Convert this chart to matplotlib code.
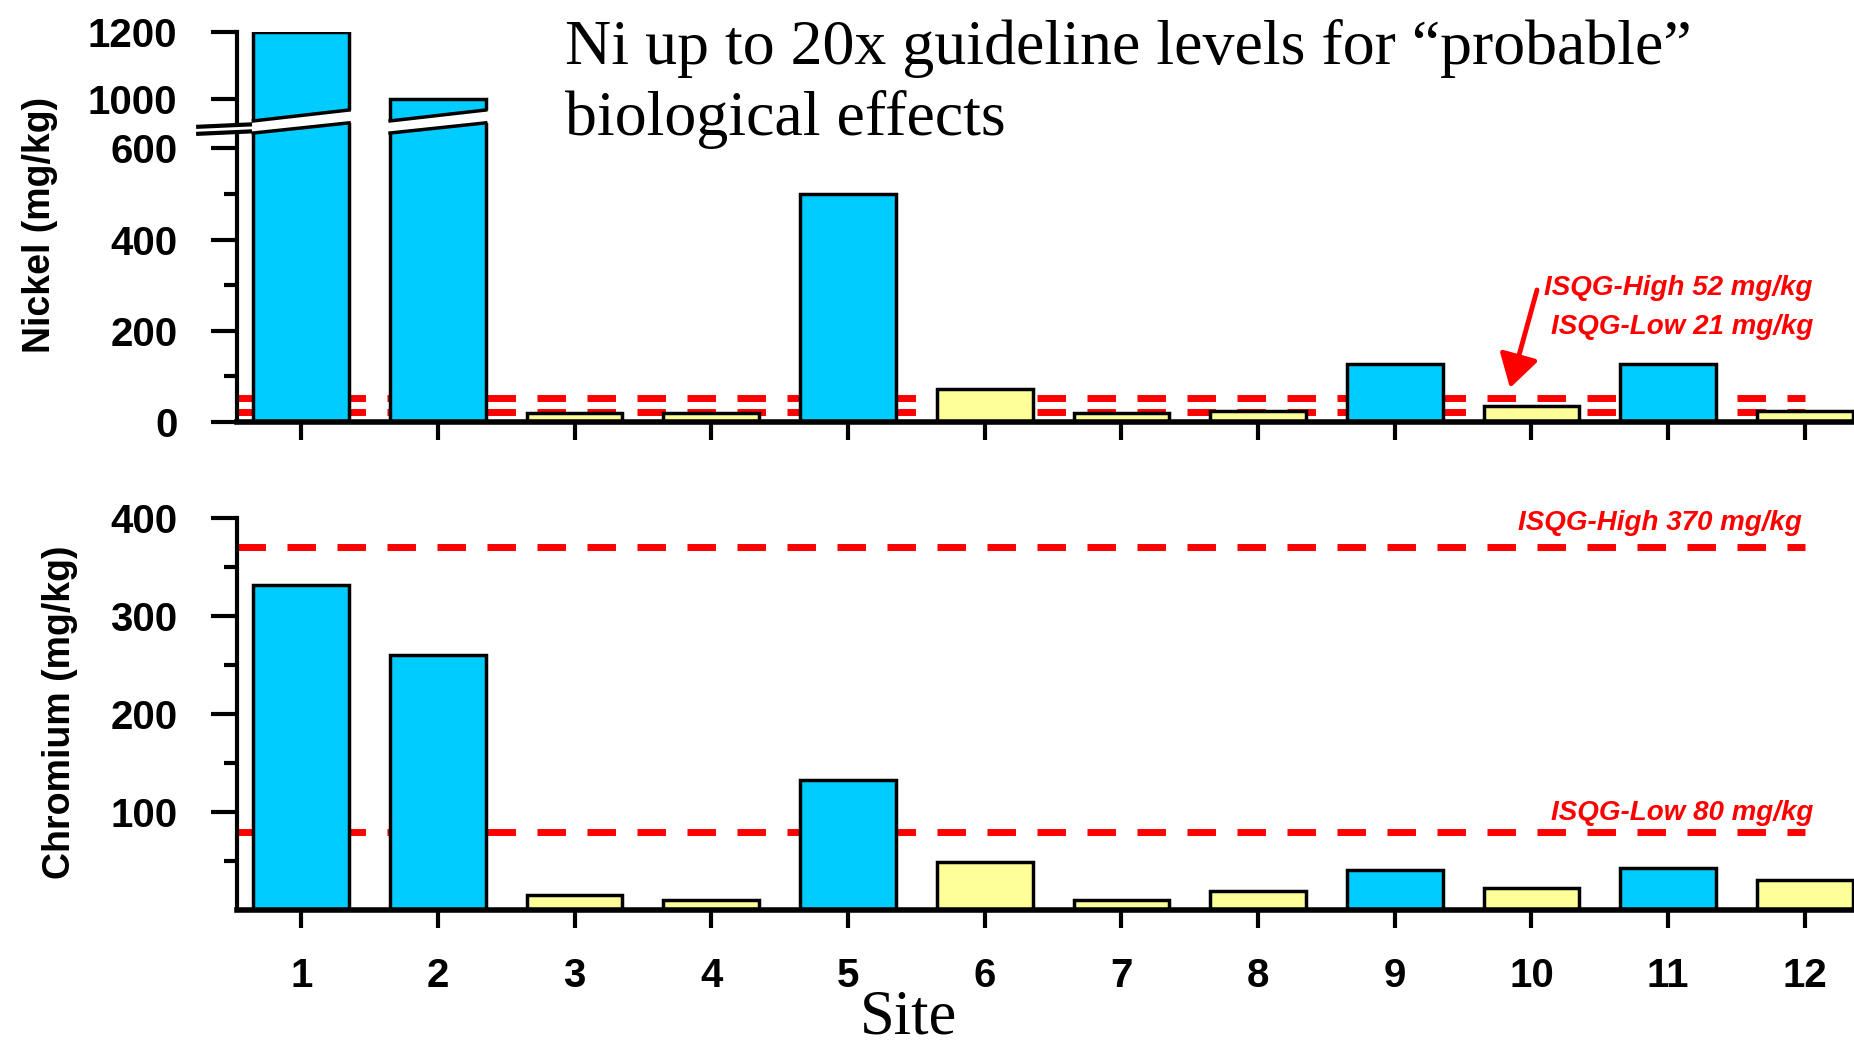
import numpy as np
import matplotlib.pyplot as plt
from matplotlib.patches import Polygon

plt.rcParams['font.family'] = 'Liberation Sans'
plt.rcParams['font.weight'] = 'bold'

sites = np.arange(1, 13)
site_labels = [str(s) for s in sites]
nickel = [1200, 1000, 20, 20, 500, 72, 20, 24, 128, 36, 128, 25]
chromium = [332, 260, 15, 10, 133, 49, 10, 19, 41, 22, 43, 31]
over_guideline = [True, True, False, False, True, False, False, False, True, False, True, False]

ni_high, ni_low = 52, 21
cr_high, cr_low = 370, 80

blue = '#00CCFF'
yellow = '#FFFF99'
red = '#FF0000'
colors = [blue if o else yellow for o in over_guideline]

# nickel axis is broken: linear up to brk_lo, squeezed above brk_hi
brk_lo, brk_hi, squash = 644, 913, 0.7335
xp = [-1e4, brk_lo, brk_hi, 1e4]
fp = [-1e4, brk_lo, brk_lo + 0.5, brk_lo + 0.5 + (1e4 - brk_hi) * squash]


def fwd(y):
    return np.interp(y, xp, fp)


def inv(t):
    return np.interp(t, fp, xp)


W, H = 1854, 1048
fig = plt.figure(figsize=(W / 100, H / 100), dpi=100)
ax1 = fig.add_axes([237 / W, 1 - 422 / H, 1617 / W, 390 / H])
ax2 = fig.add_axes([237 / W, 1 - 910 / H, 1617 / W, 392 / H])

dash = (0, (4.1, 3.1))


def style(ax):
    for s in ['top', 'right']:
        ax.spines[s].set_visible(False)
    ax.spines['left'].set_linewidth(3)
    ax.spines['bottom'].set_linewidth(4)
    ax.tick_params(axis='y', which='major', length=19, width=3, pad=24, labelsize=29)
    ax.tick_params(axis='y', which='minor', length=9.5, width=3)
    ax.tick_params(axis='x', length=13, width=3, pad=21, labelsize=29)
    ax.set_xlim(0.53, 12.36)
    ax.set_xticks(sites)
    ax.set_xticklabels(site_labels)


# --- nickel ---
ax1.set_yscale('function', functions=(fwd, inv))
ax1.bar(sites, nickel, width=0.7, color=colors, edgecolor='black', linewidth=2.5, zorder=2)
ax1.hlines([ni_high, ni_low], 0.53, 12, colors=red, linewidth=5, linestyles=dash, zorder=1.5)
ax1.set_ylim(0, 1200)
ax1.set_yticks([0, 200, 400, 600, 1000, 1200])
ax1.set_yticks([100, 300, 500], minor=True)
style(ax1)
ax1.tick_params(axis='x', labelbottom=False)

# slanted gap through the tall bars
trans = ax1.get_xaxis_transform()
half = 0.35
for x, v in zip(sites, nickel):
    if v > brk_hi:
        xl, xr = x - half, x + half
        top_l, top_r = 0.772, 0.800
        bot_l, bot_r = 0.741, 0.767
        ax1.add_patch(Polygon([(xl - 0.03, bot_l), (xr + 0.03, bot_r), (xr + 0.03, top_r), (xl - 0.03, top_l)],
                              closed=True, transform=trans, facecolor='white', edgecolor='none', zorder=3))
        ax1.plot([xl, xr], [top_l, top_r], transform=trans, color='black', lw=2.5, zorder=4)
        ax1.plot([xl, xr], [bot_l, bot_r], transform=trans, color='black', lw=2.5, zorder=4)

# break mark on the y spine
ax1.add_patch(Polygon([(-0.024, 0.741), (0.008, 0.747), (0.008, 0.761), (-0.024, 0.755)], closed=True,
                      transform=ax1.transAxes, facecolor='white', edgecolor='none', zorder=5, clip_on=False))
ax1.plot([-0.024, 0.008], [0.739, 0.745], transform=ax1.transAxes, color='black', lw=3, zorder=6, clip_on=False)
ax1.plot([-0.024, 0.008], [0.757, 0.763], transform=ax1.transAxes, color='black', lw=3, zorder=6, clip_on=False)

# --- chromium ---
ax2.bar(sites, chromium, width=0.7, color=colors, edgecolor='black', linewidth=2.5, zorder=2)
ax2.hlines([cr_high, cr_low], 0.53, 12, colors=red, linewidth=5, linestyles=dash, zorder=1.5)
ax2.set_ylim(0, 400)
ax2.set_yticks([100, 200, 300, 400])
ax2.set_yticks([50, 150, 250, 350], minor=True)
style(ax2)

# axis titles
fig.text(40 / W, 1 - 225 / H, 'Nickel (mg/kg)', rotation=90, ha='center', va='center', fontsize=27)
fig.text(60 / W, 1 - 712 / H, 'Chromium (mg/kg)', rotation=90, ha='center', va='center', fontsize=27)
fig.text(908 / W, 1 - 1033 / H, 'Site', family='Liberation Serif', weight='normal', fontsize=45,
         ha='center', va='baseline')
fig.text(565 / W, 1 - 19 / H, 'Ni up to 20x guideline levels for \u201cprobable\u201d\nbiological effects',
         family='Liberation Serif', weight='normal', fontsize=46, ha='left', va='top', linespacing=1.26)

# guideline labels
lab = dict(color=red, style='italic', fontsize=20, va='center')
fig.text(1813 / W, 1 - 288 / H, 'ISQG-High 52 mg/kg', ha='right', **lab)
fig.text(1813 / W, 1 - 327 / H, 'ISQG-Low 21 mg/kg', ha='right', **lab)
fig.text(1802 / W, 1 - 523 / H, 'ISQG-High 370 mg/kg', ha='right', **lab)
fig.text(1813 / W, 1 - 813 / H, 'ISQG-Low 80 mg/kg', ha='right', **lab)

ax1.annotate('', xy=(1510, H - 388), xytext=(1537, H - 290), xycoords='figure pixels',
             textcoords='figure pixels', annotation_clip=False,
             arrowprops=dict(arrowstyle='-|>,head_length=1.0,head_width=0.6', mutation_scale=20,
                             color=red, lw=3.5, shrinkA=0, shrinkB=0))

fig.savefig('out.png', dpi=100)
